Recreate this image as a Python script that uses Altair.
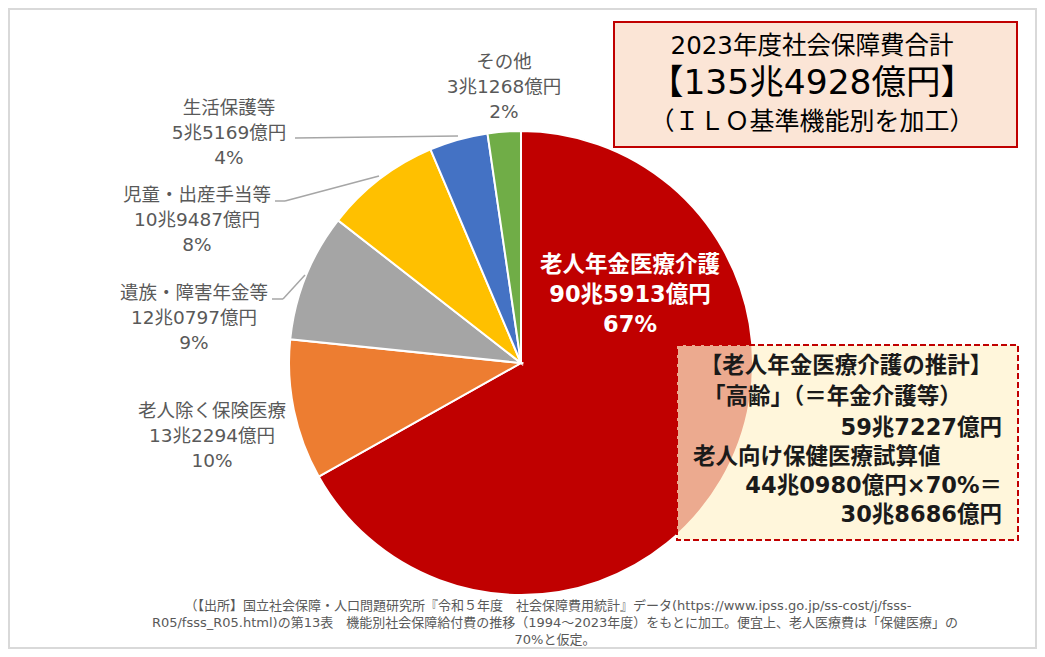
import altair as alt
import pandas as pd

# data (億円)
categories = ["老人年金医療介護", "老人除く保険医療", "遺族・障害年金等", "児童・出産手当等", "生活保護等", "その他"]
amounts = [905913, 132294, 120797, 109487, 55169, 31268]
colors = ["#C00000", "#ED7D31", "#A5A5A5", "#FFC000", "#4472C4", "#70AD47"]
koorei = 597227      # 高齢（年金介護等）
hoken_elderly = 440980  # 老人向け保健医療試算値
hoken_ratio = 70

total = sum(amounts)
fiscal_year = 2023


def fmt(v):
    return f"{v // 10000}兆{v % 10000:04d}億円"


def label(i):
    return f"{categories[i]}\n{fmt(amounts[i])}\n{round(amounts[i] / total * 100)}%"


W, H = 1029, 641
FONT = "DejaVu Sans, Noto Sans CJK JP"
cx, cy, R = 513, 355, 232

pie_df = pd.DataFrame({"category": categories, "value": amounts, "idx": range(len(amounts))})

pie = alt.Chart(pie_df).mark_arc(outerRadius=R, stroke="white", strokeWidth=2).encode(
    theta=alt.Theta("value:Q", stack=True),
    color=alt.Color("category:N", scale=alt.Scale(domain=categories, range=colors), legend=None),
    order=alt.Order("idx:Q"),
    x=alt.value(cx),
    y=alt.value(cy),
)

# outside labels: center x and first line y of each block
label_pos = {1: (204, 403), 2: (186, 285), 3: (189, 187), 4: (221, 100), 5: (496, 54)}
out_df = pd.DataFrame([{"x": p[0], "y": p[1], "t": label(i)} for i, p in label_pos.items()])
out_labels = alt.Chart(out_df).mark_text(
    font=FONT, fontSize=18.5, color="#595959", lineBreak="\n", lineHeight=25,
    align="center", baseline="middle",
).encode(x=alt.X("x:Q", scale=None), y=alt.Y("y:Q", scale=None), text="t:N")

in_df = pd.DataFrame([{"x": 622, "y": 257, "t": label(0)}])
in_label = alt.Chart(in_df).mark_text(
    font=FONT, fontSize=22.5, fontWeight="bold", color="white", lineBreak="\n", lineHeight=30,
    align="center", baseline="middle",
).encode(x=alt.X("x:Q", scale=None), y=alt.Y("y:Q", scale=None), text="t:N")

# leader lines
seg = [
    (287, 130, 450, 128),
    (267, 193, 277, 193), (277, 193, 371, 168),
    (264, 291, 275, 291), (275, 291, 297, 267),
]
seg_df = pd.DataFrame(seg, columns=["x", "y", "x2", "y2"])
leaders = alt.Chart(seg_df).mark_rule(color="#A6A6A6", strokeWidth=1.5).encode(
    x=alt.X("x:Q", scale=None), y=alt.Y("y:Q", scale=None), x2="x2:Q", y2="y2:Q"
)

# title box
tbox_df = pd.DataFrame([{"x": 606, "y": 14, "x2": 1009, "y2": 139}])
tbox = alt.Chart(tbox_df).mark_rect(fill="#FBE5D6", stroke="#C00000", strokeWidth=2).encode(
    x=alt.X("x:Q", scale=None), y=alt.Y("y:Q", scale=None), x2="x2:Q", y2="y2:Q"
)
title_df = pd.DataFrame([
    {"x": 804, "y": 39, "t": f"{fiscal_year}年度社会保障費合計", "s": 24.5},
    {"x": 804, "y": 76, "t": f"【{fmt(total)}】", "s": 34.5},
    {"x": 804, "y": 114, "t": "（ＩＬＯ基準機能別を加工）", "s": 25},
])
title_txt = alt.Chart(title_df).mark_text(font=FONT, color="black", align="center", baseline="middle").encode(
    x=alt.X("x:Q", scale=None), y=alt.Y("y:Q", scale=None), text="t:N",
    size=alt.Size("s:Q", scale=None, legend=None),
)

# annotation box
abox_df = pd.DataFrame([{"x": 669, "y": 337, "x2": 1010, "y2": 532}])
abox = alt.Chart(abox_df).mark_rect(
    fill="#FFF2CC", fillOpacity=0.7, stroke="#C00000", strokeWidth=2, strokeDash=[6, 3]
).encode(x=alt.X("x:Q", scale=None), y=alt.Y("y:Q", scale=None), x2="x2:Q", y2="y2:Q")

calc = round(hoken_elderly * hoken_ratio / 100)
ann_rows = [
    ("center", 838, 358, "【老人年金医療介護の推計】"),
    ("left", 695, 389, "「高齢」（＝年金介護等）"),
    ("right", 994, 420, fmt(koorei)),
    ("left", 685, 449, "老人向け保健医療試算値"),
    ("right", 994, 478, f"{fmt(hoken_elderly)}×{hoken_ratio}%＝"),
    ("right", 994, 507, fmt(calc)),
]
ann_layers = []
for al in ["center", "left", "right"]:
    d = pd.DataFrame([{"x": r[1], "y": r[2], "t": r[3]} for r in ann_rows if r[0] == al])
    ann_layers.append(
        alt.Chart(d).mark_text(font=FONT, fontSize=22.5, fontWeight="bold", color="#1a1a1a",
                               align=al, baseline="middle").encode(
            x=alt.X("x:Q", scale=None), y=alt.Y("y:Q", scale=None), text="t:N"
        )
    )

# source note
note_df = pd.DataFrame([
    {"x": 540, "y": 598, "t": "（【出所】国立社会保障・人口問題研究所『令和５年度　社会保障費用統計』データ(https://www.ipss.go.jp/ss-cost/j/fsss-"},
    {"x": 547, "y": 615, "t": "R05/fsss_R05.html)の第13表　機能別社会保障給付費の推移（1994～2023年度）をもとに加工。便宜上、老人医療費は「保健医療」の"},
    {"x": 547, "y": 632, "t": "70%と仮定。"},
])
note = alt.Chart(note_df).mark_text(font=FONT, fontSize=13, color="#595959", align="center", baseline="middle").encode(
    x=alt.X("x:Q", scale=None), y=alt.Y("y:Q", scale=None), text="t:N"
)

frame_df = pd.DataFrame([{"x": 1, "y": 1, "x2": W - 1, "y2": H - 1}])
frame = alt.Chart(frame_df).mark_rect(fill=None, stroke="#D9D9D9", strokeWidth=2).encode(
    x=alt.X("x:Q", scale=None), y=alt.Y("y:Q", scale=None), x2="x2:Q", y2="y2:Q"
)

chart = alt.layer(
    frame, pie, leaders, out_labels, in_label, tbox, title_txt, abox, *ann_layers, note
).properties(
    width=W, height=H, padding=0, autosize=alt.AutoSizeParams(type="none")
).configure_view(stroke=None)

chart.save("out.html", embed_options={"renderer": "svg", "actions": False})
